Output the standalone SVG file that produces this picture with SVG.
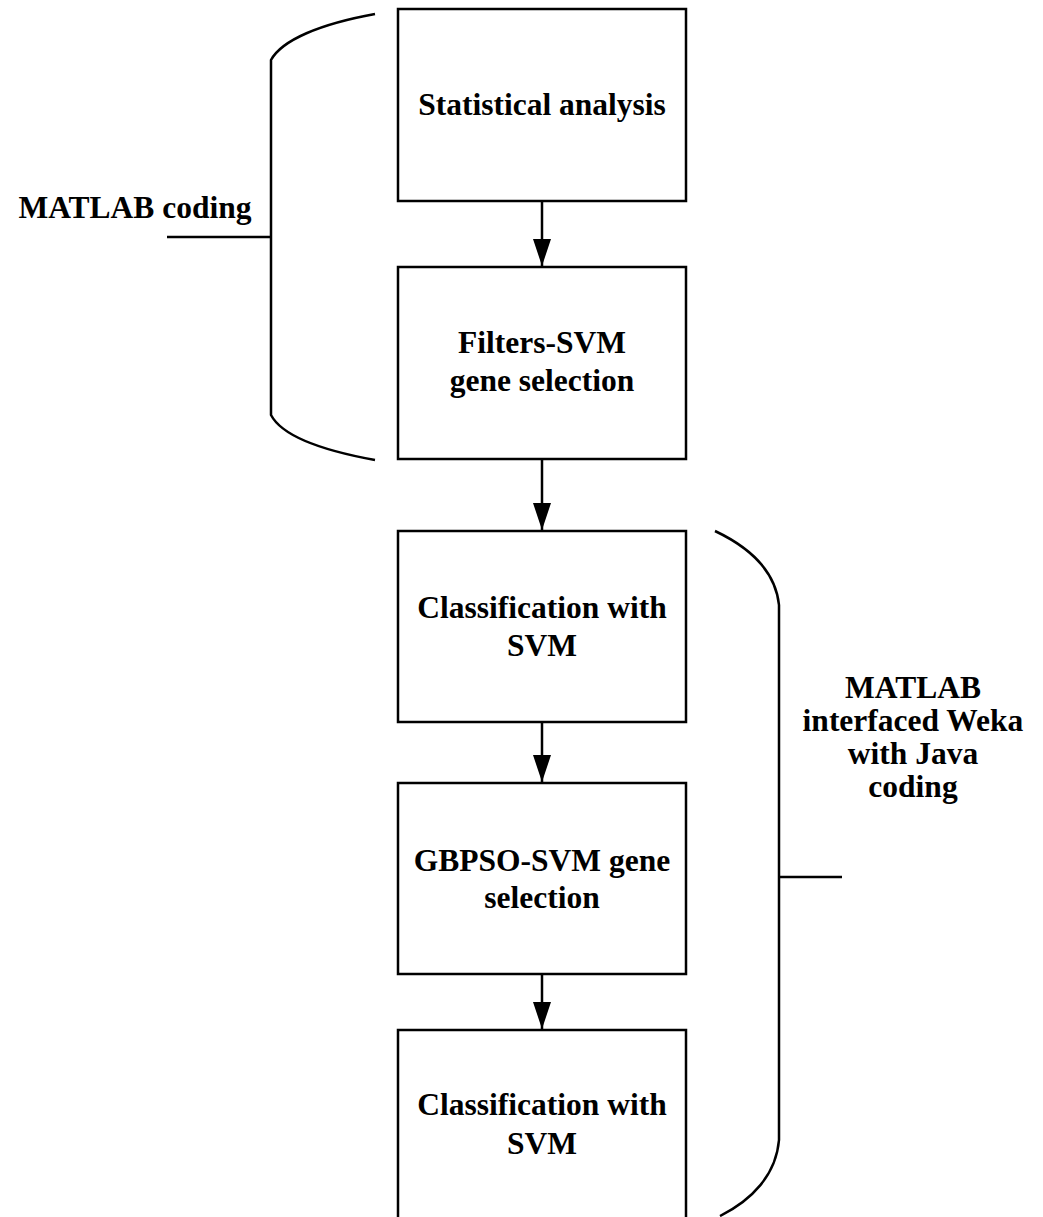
<svg xmlns="http://www.w3.org/2000/svg" width="1043" height="1217" viewBox="0 0 1043 1217">
  <style>
    .box { fill: #fff; stroke: #000; stroke-width: 2.5; }
    .lbl { font-family: "Liberation Serif", "Times New Roman", serif; font-weight: bold; font-size: 31.5px; fill: #000; text-anchor: middle; }
    .edge { stroke: #000; stroke-width: 2.5; fill: none; }
    .brace { stroke: #000; stroke-width: 2.5; fill: none; }
  </style>
  <defs>
    <marker id="arrow" markerWidth="27" markerHeight="18" refX="27" refY="9" orient="auto" markerUnits="userSpaceOnUse" viewBox="0 0 27 18">
      <path d="M0,0 L27,9 L0,18 Z" fill="#000"/>
    </marker>
  </defs>
  <rect width="1043" height="1217" fill="#fff"/>

  <!-- process steps -->
  <g id="n1">
    <rect class="box" x="398" y="9" width="288" height="192"/>
    <text class="lbl" x="542" y="115">Statistical analysis</text>
  </g>
  <g id="n2">
    <rect class="box" x="398" y="267" width="288" height="192"/>
    <text class="lbl" x="542" y="353">Filters-SVM</text>
    <text class="lbl" x="542" y="391">gene selection</text>
  </g>
  <g id="n3">
    <rect class="box" x="398" y="531" width="288" height="191"/>
    <text class="lbl" x="542" y="618">Classification with</text>
    <text class="lbl" x="542" y="656">SVM</text>
  </g>
  <g id="n4">
    <rect class="box" x="398" y="783" width="288" height="191"/>
    <text class="lbl" x="542" y="871">GBPSO-SVM gene</text>
    <text class="lbl" x="542" y="908">selection</text>
  </g>
  <g id="n5">
    <rect class="box" x="398" y="1030" width="288" height="200"/>
    <text class="lbl" x="542" y="1115">Classification with</text>
    <text class="lbl" x="542" y="1154">SVM</text>
  </g>

  <!-- flow arrows -->
  <g id="connectors">
    <line class="edge" x1="542" y1="201" x2="542" y2="266" marker-end="url(#arrow)"/>
    <line class="edge" x1="542" y1="459" x2="542" y2="530" marker-end="url(#arrow)"/>
    <line class="edge" x1="542" y1="722" x2="542" y2="782" marker-end="url(#arrow)"/>
    <line class="edge" x1="542" y1="974" x2="542" y2="1029" marker-end="url(#arrow)"/>
  </g>

  <!-- left brace: MATLAB coding -->
  <g id="brace-left">
    <path class="brace" d="M375,14 C320,24 282,40 271,60 L271,415 C282,436 320,450 375,460"/>
    <line class="brace" x1="167" y1="237" x2="271" y2="237"/>
    <text class="lbl" x="135" y="218">MATLAB coding</text>
  </g>

  <!-- right brace: MATLAB interfaced Weka with Java coding -->
  <g id="brace-right">
    <path class="brace" d="M715,531 C755,550 776,575 779,605 L779,1140 C776,1175 752,1200 720,1216"/>
    <line class="brace" x1="779" y1="877" x2="842" y2="877"/>
    <text class="lbl" x="913" y="698">MATLAB</text>
    <text class="lbl" x="913" y="731">interfaced Weka</text>
    <text class="lbl" x="913" y="764">with Java</text>
    <text class="lbl" x="913" y="797">coding</text>
  </g>
</svg>
